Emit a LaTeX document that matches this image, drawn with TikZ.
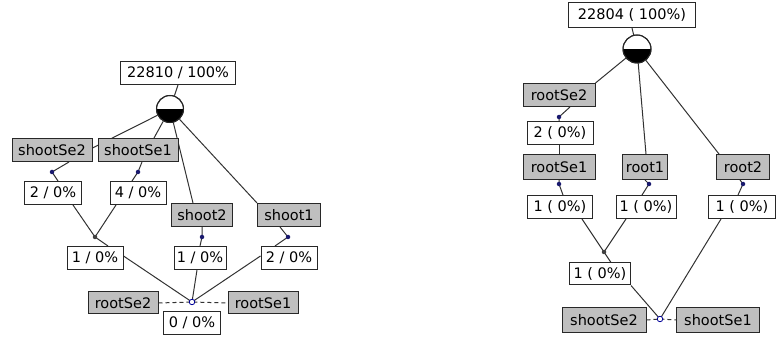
\documentclass[tikz,border=0pt]{standalone}
\usepackage{fontspec}
\setmainfont{DejaVu Sans}
\pgfdeclarelayer{bg}
\pgfsetlayers{bg,main}
\definecolor{dotc}{RGB}{25,25,110}
\definecolor{edgec}{RGB}{50,50,50}
\definecolor{boxline}{RGB}{40,40,40}
\begin{document}
\begin{tikzpicture}[x=1pt,y=-1pt,
  box/.style={draw=boxline, fill=white, line width=1pt, minimum height=23pt,
    inner xsep=2pt, inner ysep=0pt, font=\fontsize{14.5}{16}\selectfont, minimum width=#1},
  gbox/.style={box=#1, fill=gray!50},
  dotn/.style={circle, fill=dotc, inner sep=0pt, minimum size=4.5pt},
  jdot/.style={circle, fill=black!75, inner sep=0pt, minimum size=4.5pt},
  wdot/.style={circle, draw=blue!60!black, fill=white, line width=0.8pt, inner sep=0pt, minimum size=5.5pt},
  ln/.style={draw=edgec, line width=1pt},
  dln/.style={draw=edgec, line width=1pt, dash pattern=on 4pt off 3pt},
  rootc/.style={circle, draw=black!85, line width=1pt, inner sep=0pt, minimum size=#1}
]
\useasboundingbox (0,0) rectangle (777,339);

% ---------------- left diagram ----------------
\node[box=115pt] (L0) at (178,73) {22810 / 100\%};
\node[rootc=27pt, fill=white] (Lc) at (170,109) {};
\begin{scope}
  \clip (Lc.center) circle (13.5pt);
  \fill[black] ([xshift=-15pt]Lc.center) rectangle ([xshift=15pt,yshift=-15pt]Lc.center);
\end{scope}
\draw[black!85, line width=1pt] (Lc.center) circle (13.5pt);

\node[gbox=80pt] (sse2) at (52,150) {shootSe2};
\node[gbox=80pt] (sse1) at (138,150) {shootSe1};
\node[gbox=61pt] (sh2) at (202,215) {shoot2};
\node[gbox=63pt] (sh1) at (289,215) {shoot1};
\node[box=57pt] (a) at (53,193) {2 / 0\%};
\node[box=56pt] (b) at (138,193) {4 / 0\%};
\node[box=56pt] (c) at (95,258) {1 / 0\%};
\node[box=52pt] (d) at (200,258) {1 / 0\%};
\node[box=56pt] (e) at (289,258) {2 / 0\%};
\node[gbox=70pt, minimum height=22pt] (rse2) at (123,303) {rootSe2};
\node[gbox=70pt, minimum height=22pt] (rse1) at (263,303) {rootSe1};
\node[box=57pt, minimum height=22pt] (z) at (192,323) {0 / 0\%};

\node[dotn] (d1) at (52,172) {};
\node[dotn] (d2) at (138,172) {};
\node[jdot] (j1) at (95,237) {};
\node[dotn] (d3) at (202,237) {};
\node[dotn] (d4) at (288,237) {};
\node[wdot] (jb) at (192,302) {};

\begin{pgfonlayer}{bg}
  \path[ln] (L0.south) -- (Lc);
  \path[ln] (Lc) -- ([yshift=2pt]sse2.east);
  \path[ln] (Lc) -- ([xshift=16pt]sse1.north);
  \path[ln] (Lc) -- ([xshift=-9pt]sh2.north);
  \path[ln] (Lc) -- (sh1.north west);
  \path[ln] ([xshift=17pt]sse2.south) -- (d1.center) -- ([xshift=5pt]a.north);
  \path[ln] ([xshift=4pt]sse1.south) -- (d2.center) -- ([xshift=-6pt]b.north);
  \path[ln] ([xshift=20pt]a.south) -- (j1.center);
  \path[ln] ([xshift=-22pt]b.south) -- (j1.center);
  \path[ln] (j1.center) -- ([xshift=13pt]c.north);
  \path[ln] (sh2.south) -- (d3.center) -- (d.north);
  \path[ln] ([xshift=-9pt]sh1.south) -- (d4.center) -- ([xshift=-14pt]e.north);
  \path[ln] ([yshift=2pt]c.east) -- (jb.center);
  \path[ln] ([xshift=-3pt]d.south) -- (jb.center);
  \path[ln] ([yshift=2pt]e.west) -- (jb.center);
  \path[dln] (rse2.east) -- (jb.center) -- (rse1.west);
\end{pgfonlayer}

% ---------------- right diagram ----------------
\node[box=127pt, minimum height=25pt] (R0) at (632,15) {22804 ( 100\%)};
\node[rootc=28pt, fill=white] (Rc) at (637,49) {};
\begin{scope}
  \clip (Rc.center) circle (14pt);
  \fill[black] ([xshift=-15pt]Rc.center) rectangle ([xshift=15pt,yshift=-15pt]Rc.center);
\end{scope}
\draw[black!85, line width=1pt] (Rc.center) circle (14pt);

\node[gbox=72pt] (rse2r) at (559,95) {rootSe2};
\node[box=66pt] (r2) at (560,133) {2 ( 0\%)};
\node[gbox=72pt, minimum height=25pt] (rse1r) at (559,167) {rootSe1};
\node[gbox=45pt, minimum height=25pt] (root1) at (645,167) {root1};
\node[gbox=53pt, minimum height=25pt] (root2) at (743,167) {root2};
\node[box=65pt] (p) at (560,207) {1 ( 0\%)};
\node[box=60pt] (q) at (646,207) {1 ( 0\%)};
\node[box=67pt] (r) at (742,207) {1 ( 0\%)};
\node[box=61pt, minimum height=22pt] (s) at (600,274) {1 ( 0\%)};
\node[gbox=84pt, minimum height=24pt] (sse2r) at (604,320) {shootSe2};
\node[gbox=83pt, minimum height=24pt] (sse1r) at (718,320) {shootSe1};

\node[dotn] (e1) at (559,117) {};
\node[dotn] (e2) at (559,184) {};
\node[dotn] (e3) at (649,184) {};
\node[dotn] (e4) at (743,184) {};
\node[jdot] (jr) at (604,252) {};
\node[wdot] (jb2) at (660,319) {};

\begin{pgfonlayer}{bg}
  \path[ln] (R0.south) -- (Rc);
  \path[ln] (Rc) -- (rse2r.north east);
  \path[ln] (Rc) -- ([xshift=1pt]root1.north);
  \path[ln] (Rc) -- ([xshift=-24pt]root2.north);
  \path[ln] ([xshift=11pt]rse2r.south) -- (e1.center) -- ([xshift=-1pt]r2.north);
  \path[ln] ([xshift=-1pt]r2.south) -- (rse1r.north);
  \path[ln] (rse1r.south) -- (e2.center) -- ([xshift=3pt]p.north);
  \path[ln] (root1.south) -- (e3.center) -- ([xshift=-4pt]q.north);
  \path[ln] ([xshift=-3pt]root2.south) -- (e4.center) -- ([xshift=-4pt]r.north);
  \path[ln] ([xshift=22pt]p.south) -- (jr.center);
  \path[ln] ([xshift=-20pt]q.south) -- (jr.center);
  \path[ln] (jr.center) -- ([xshift=11pt]s.north);
  \path[ln] (s.south east) -- (jb2.center);
  \path[ln] ([xshift=-21pt]r.south) -- (jb2.center);
  \path[dln] (sse2r.east) -- (jb2.center) -- (sse1r.west);
\end{pgfonlayer}
\end{tikzpicture}
\end{document}
